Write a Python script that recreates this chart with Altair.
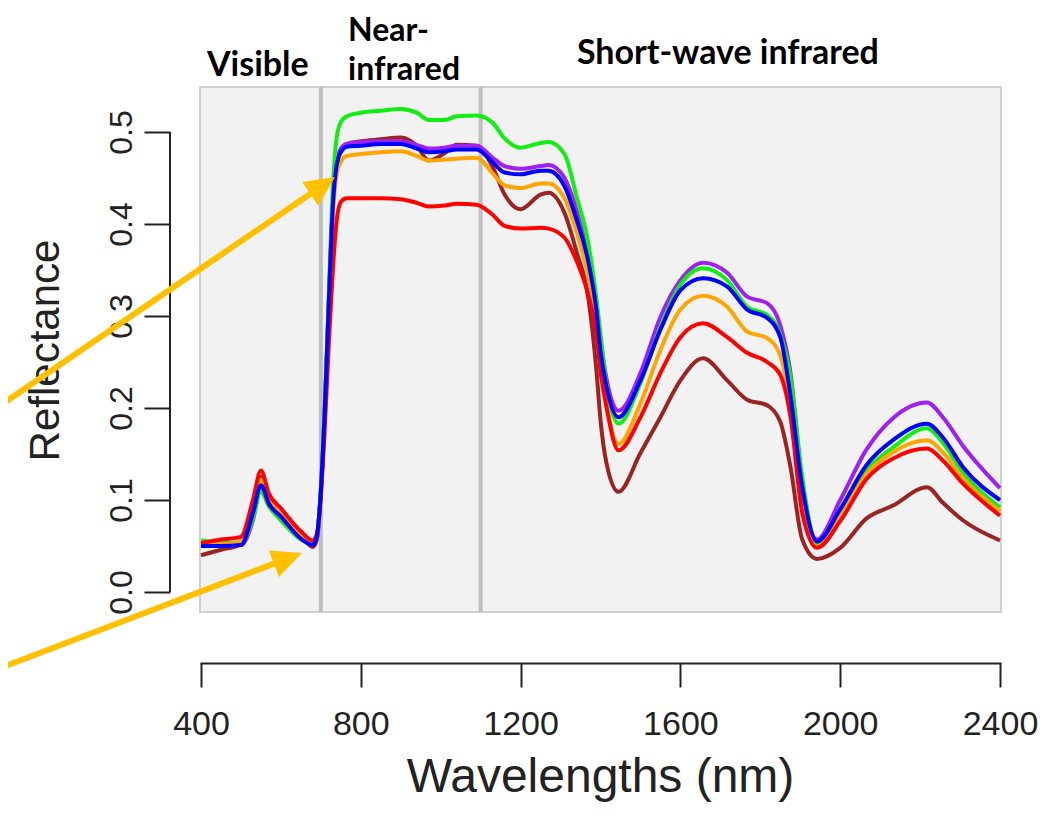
import altair as alt
import pandas as pd

# ---------------- data ----------------
WAVELENGTHS = [400, 450, 500, 530, 550, 570, 600, 650, 680, 690, 700, 710, 720, 730, 740, 750, 765,
               800, 850, 900, 940, 970, 1010, 1040, 1090, 1130, 1160, 1200, 1250, 1270, 1310, 1340,
               1370, 1390, 1400, 1415, 1445, 1500, 1550, 1600, 1657, 1717, 1767, 1817, 1850, 1875,
               1905, 1942, 2000, 2066, 2132, 2217, 2257, 2307, 2400]

BROWN = [.040, .046, .052, .090, .125, .100, .085, .062, .049, .057, .108, .198, .315, .420, .468, .480, .487,
         .490, .492, .494, .485, .469, .477, .486, .485, .462, .432, .416, .432, .434, .412, .370,
         .318, .240, .187, .140, .109, .151, .190, .230, .254, .230, .209, .203, .185, .137,
         .057, .036, .048, .080, .094, .114, .097, .078, .056]
PURPLE = [.050, .050, .051, .078, .115, .097, .082, .059, .051, .060, .110, .200, .315, .420, .468, .482, .487,
          .489, .490, .490, .486, .482, .483, .485, .485, .472, .463, .460, .463, .464, .450, .415,
          .362, .313, .275, .232, .197, .238, .299, .339, .358, .347, .321, .314, .290, .240,
          .118, .057, .100, .155, .189, .206, .190, .159, .113]
GREEN = [.056, .054, .053, .080, .109, .093, .078, .057, .052, .060, .112, .205, .325, .440, .495, .511, .517,
         .521, .523, .525, .521, .513, .513, .517, .518, .510, .493, .483, .488, .489, .476, .430,
         .378, .318, .280, .225, .183, .227, .288, .334, .352, .339, .310, .301, .280, .235,
         .125, .051, .085, .132, .157, .178, .162, .130, .092]
ORANGE = [.052, .052, .055, .090, .122, .100, .085, .062, .053, .060, .108, .195, .305, .410, .455, .468, .474,
          .476, .478, .479, .474, .469, .470, .471, .472, .455, .442, .439, .444, .444, .428, .392,
          .342, .295, .250, .205, .161, .205, .263, .307, .322, .310, .283, .276, .257, .205,
          .100, .049, .081, .128, .152, .165, .152, .124, .088]
RED = [.053, .057, .060, .100, .132, .107, .091, .066, .056, .063, .105, .180, .270, .350, .405, .424, .428,
       .428, .428, .427, .423, .419, .420, .422, .421, .410, .398, .395, .396, .395, .385, .360,
       .322, .280, .240, .201, .154, .190, .238, .277, .292, .277, .260, .250, .236, .192,
       .086, .048, .077, .123, .145, .156, .143, .118, .083]
BLUE = [.050, .050, .051, .086, .116, .096, .082, .058, .051, .060, .110, .200, .315, .420, .465, .478, .484,
        .485, .487, .487, .482, .478, .479, .481, .481, .467, .456, .454, .458, .458, .441, .405,
        .358, .305, .262, .223, .190, .230, .285, .328, .341, .332, .307, .298, .277, .215,
        .114, .055, .090, .138, .165, .183, .168, .136, .100]

SERIES_NAMES = ["brown", "purple", "green", "orange", "red", "blue"]
SERIES_VALUES = [BROWN, PURPLE, GREEN, ORANGE, RED, BLUE]
SERIES_COLORS = ["#9b2323", "#a020f0", "#11ee11", "#ffa500", "#ff0000", "#0000ff"]

REGION_BOUNDS = [700, 1100]
X_TICKS = [400, 800, 1200, 1600, 2000, 2400]
Y_TICKS = [0.0, 0.1, 0.2, 0.3, 0.4, 0.5]
REGION_LABELS = ["Visible", "Near-\ninfrared", "Short-wave infrared"]

# arrows (annotation, in data units)
ARROW_X0 = [-100, -100]
ARROW_Y0 = [0.2037, -0.0822]
ARROW_X1 = [694.1, 606.0]
ARROW_Y1 = [0.4388, 0.0347]
ARROW_TIP_X = [735.4, 652.8]
ARROW_TIP_Y = [0.4511, 0.0424]
ARROW_ANGLE = [55.7, 69.1]

# ---------------- tables ----------------
rows = []
for name, vals in zip(SERIES_NAMES, SERIES_VALUES):
    for w, v in zip(WAVELENGTHS, vals):
        rows.append({"wavelength": w, "reflectance": v, "sample": name})
spectra = pd.DataFrame(rows)

bounds = pd.DataFrame({"wavelength": REGION_BOUNDS})
yaxis_line = pd.DataFrame({"y0": [Y_TICKS[0]], "y1": [Y_TICKS[-1]]})
arrows = pd.DataFrame({"x0": ARROW_X0, "y0": ARROW_Y0, "x1": ARROW_X1, "y1": ARROW_Y1,
                       "tx": ARROW_TIP_X, "ty": ARROW_TIP_Y, "ang": ARROW_ANGLE})

x_scale = alt.Scale(domain=[397.5, 2402.5], nice=False, zero=False)
y_scale = alt.Scale(domain=[-0.0217, 0.5489], nice=False, zero=False)

INK = "#222222"
FONT = "Liberation Sans"
ARROW_COLOR = "#ffc000"
X_TITLE = "Wavelengths (nm)"
Y_TITLE = "Reflectance"

x_axis = alt.Axis(values=X_TICKS, format="d", offset=51, tickSize=24, tickWidth=2, domainWidth=2,
                  labelFontSize=34, labelPadding=20, labelBaseline="top", labelFlush=False,
                  labelOverlap=False, titleFontSize=48, titleFontWeight="normal",
                  titleX=400, titleY=128, titleBaseline="alphabetic", titleAnchor="middle")
y_axis = alt.Axis(values=Y_TICKS, format=".1f", offset=30, tickSize=26, tickWidth=2, domain=False,
                  labelFontSize=32, labelAngle=270, labelAlign="center", labelBaseline="bottom",
                  labelPadding=6, labelFlush=False, labelOverlap=False,
                  titleFontSize=42, titleFontWeight="normal", titleAngle=270,
                  titleX=-112, titleY=263, titleBaseline="alphabetic", titleAlign="center")


def X(field=None, datum=None):
    if datum is not None:
        return alt.X(datum=datum, scale=x_scale, axis=x_axis, title=X_TITLE)
    return alt.X(field, scale=x_scale, axis=x_axis, title=X_TITLE)


def Y(field):
    return alt.Y(field, scale=y_scale, axis=y_axis, title=Y_TITLE)


boundary_rules = alt.Chart(bounds).mark_rule(color="#bfbfbf", strokeWidth=4).encode(
    x=X("wavelength:Q")
)

lines = alt.Chart(spectra).mark_line(strokeWidth=4, interpolate="monotone").encode(
    x=X("wavelength:Q"),
    y=Y("reflectance:Q"),
    color=alt.Color("sample:N", scale=alt.Scale(domain=SERIES_NAMES, range=SERIES_COLORS), legend=None),
)

y_line = alt.Chart(yaxis_line).mark_rule(color=INK, strokeWidth=2).encode(
    x=alt.value(-30),
    y=Y("y0:Q"),
    y2="y1:Q",
)

shafts = alt.Chart(arrows).mark_rule(color=ARROW_COLOR, strokeWidth=6).encode(
    x=X("x0:Q"),
    y=Y("y0:Q"),
    x2="x1:Q",
    y2="y1:Q",
)
heads = alt.Chart(arrows).mark_point(
    shape="M0,0L0.95,2L-0.95,2Z", filled=True, size=900, color=ARROW_COLOR, opacity=1
).encode(
    x=X("tx:Q"),
    y=Y("ty:Q"),
    angle=alt.Angle("ang:Q", scale=None),
)

label_df = pd.DataFrame({"label": REGION_LABELS})


def region_label(text, x_nm, y_px, size=34, line_height=36):
    return alt.Chart(label_df).transform_filter(alt.datum.label == text).mark_text(
        font="Lato", fontWeight="bold", fontSize=size, align="left", baseline="alphabetic",
        color="#000000", lineBreak="\n", lineHeight=line_height
    ).encode(
        x=X(datum=x_nm),
        y=alt.value(y_px),
        text="label:N",
    )


labels = (region_label("Visible", 415, -11)
          + region_label("Near-\ninfrared", 768, -46, size=32, line_height=39)
          + region_label("Short-wave infrared", 1341, -23))

chart = alt.layer(boundary_rules, lines, y_line, labels, shafts, heads).properties(
    width=801,
    height=525,
    padding={"left": 192, "top": 79, "right": 38, "bottom": 190},
    autosize=alt.AutoSizeParams(type="none"),
).configure_view(
    fill="#f2f2f2", stroke="#d0d0d0", strokeWidth=2
).configure_axis(
    labelFont=FONT, titleFont=FONT, labelColor=INK, titleColor=INK,
    domainColor=INK, tickColor=INK, grid=False
)

chart.save("out.html", embed_options={"renderer": "svg", "actions": False})
